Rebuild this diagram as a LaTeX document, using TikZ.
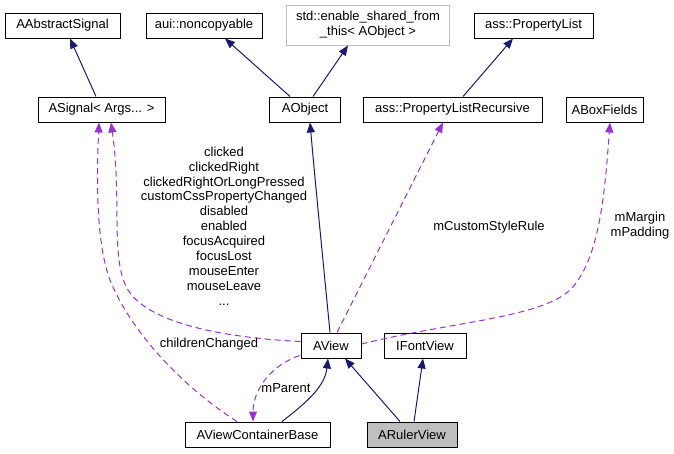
\documentclass[tikz,border=0pt]{standalone}
\usepackage{fontspec}
\setmainfont{Liberation Sans}
\usetikzlibrary{arrows.meta}
\definecolor{navy}{HTML}{191970}
\definecolor{orchid}{HTML}{9A32CD}
\definecolor{boxgray}{HTML}{BFBFBF}
\begin{document}
\begin{tikzpicture}[x=1pt,y=-1pt,
  every node/.style={font=\fontsize{13}{14.9}\selectfont},
  cls/.style={draw=black,line width=1pt,minimum height=25pt,inner sep=0pt,fill=white},
  inh/.style={draw=navy,line width=1pt,-{Triangle[length=10pt,width=8pt]}},
  use/.style={draw=orchid,line width=1pt,dash pattern=on 6pt off 4pt,-{Triangle[length=10pt,width=8pt]}},
  lbl/.style={align=center,inner sep=0pt}]
\useasboundingbox (0,0) rectangle (674,453);
% nodes
\node[cls,minimum width=115pt] (aabs) at (62.5,25.5) {AAbstractSignal};
\node[cls,minimum width=116pt] (nonc) at (204,25.5) {aui::noncopyable};
\node[cls,draw=boxgray,minimum width=163pt,minimum height=40pt,align=center] (std) at (368,25) {std::enable\_shared\_from\\\_this< AObject >};
\node[cls,minimum width=119pt] (pl) at (533.5,25.5) {ass::PropertyList};
\node[cls,minimum width=127pt] (asig) at (101.5,109.5) {ASignal< Args... >};
\node[cls,minimum width=71pt] (aobj) at (305,109.5) {AObject};
\node[cls,minimum width=179pt] (plr) at (452.5,109.5) {ass::PropertyListRecursive};
\node[cls,minimum width=77pt] (abox) at (604.5,109.5) {ABoxFields};
\node[cls,minimum width=60pt] (aview) at (331,345.5) {AView};
\node[cls,minimum width=82pt] (ifont) at (425,345.5) {IFontView};
\node[cls,minimum width=145pt] (avcb) at (257.5,434.5) {AViewContainerBase};
\node[cls,fill=boxgray,minimum width=90pt] (arul) at (412,434.5) {ARulerView};
% inheritance
\draw[inh] ([xshift=-5.5pt]asig.north) -- ([xshift=7.5pt]aabs.south);
\draw[inh] ([xshift=-15pt]aobj.north) -- ([xshift=21pt]nonc.south);
\draw[inh] ([xshift=8pt]aobj.north) -- ([xshift=-20pt]std.south);
\draw[inh] ([xshift=10.5pt]plr.north) -- ([xshift=-20.5pt]pl.south);
\draw[inh] ([xshift=-1pt]aview.north) .. controls (322,250) and (315,180) .. ([xshift=5pt]aobj.south);
\draw[inh] ([xshift=24.5pt]avcb.north) .. controls (310,400) and (325,385) .. ([xshift=-3pt]aview.south);
\draw[inh] ([xshift=-12pt]arul.north) -- ([xshift=14pt]aview.south);
\draw[inh] ([xshift=2pt]arul.north) -- ([xshift=-2pt]ifont.south);
% usage
\draw[use] ([yshift=4pt]aview.west) .. controls (230,338) and (150,325) .. (128,290) .. controls (110,260) and (122,200) .. ([xshift=9.5pt]asig.south);
\draw[use] ([xshift=-20.5pt]avcb.north) .. controls (180,385) and (130,330) .. (110,280) .. controls (95,240) and (97,170) .. ([xshift=-2.5pt]asig.south);
\draw[use] ([xshift=6pt]aview.north) -- ([xshift=-9.5pt]plr.south);
\draw[use] ([yshift=1.5pt]aview.east) .. controls (450,322) and (540,318) .. (570,290) .. controls (600,260) and (605,190) .. ([xshift=5.5pt]abox.south);
\draw[use] ([shift={(-1pt,-10pt)}]aview.west) .. controls (265,368) and (253,395) .. ([xshift=-4.5pt]avcb.north);
% labels
\node[lbl] (lclick) at (224,226) {clicked\\clickedRight\\clickedRightOrLongPressed\\customCssPropertyChanged\\disabled\\enabled\\focusAcquired\\focusLost\\mouseEnter\\mouseLeave\\...};
\node[lbl] (lchild) at (209,344) {childrenChanged};
\node[lbl] (lpar) at (286,388) {mParent};
\node[lbl] (lcss) at (489,227) {mCustomStyleRule};
\node[lbl] (lmar) at (640,226) {mMargin\\mPadding};
\end{tikzpicture}
\end{document}
